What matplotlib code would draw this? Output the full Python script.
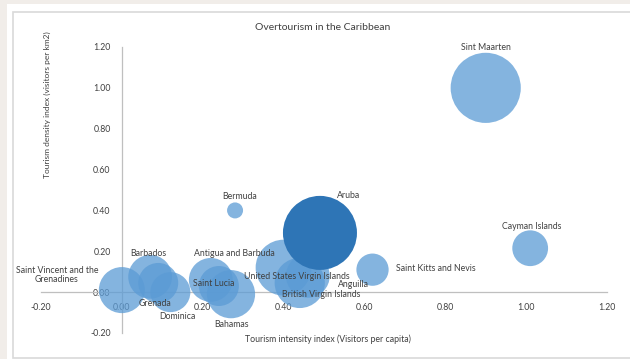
import matplotlib
matplotlib.use("Agg")
import matplotlib.pyplot as plt
import numpy as np
from matplotlib.patches import Rectangle

# Data
countries = [
    "Saint Vincent and the\nGrenadines", "Barbados", "Grenada", "Dominica",
    "Antigua and Barbuda", "Saint Lucia", "Bahamas", "Bermuda",
    "United States Virgin Islands", "British Virgin Islands", "Anguilla",
    "Aruba", "Saint Kitts and Nevis", "Sint Maarten", "Cayman Islands",
]
intensity = [0.00, 0.07, 0.09, 0.12, 0.22, 0.24, 0.27, 0.28,
             0.40, 0.44, 0.46, 0.49, 0.62, 0.90, 1.01]
density = [0.01, 0.075, 0.045, 0.00, 0.06, 0.03, -0.01, 0.40,
           0.12, 0.045, 0.08, 0.29, 0.11, 1.00, 0.215]
# bubble size (relative area)
bubble = [5.3, 4.8, 4.0, 4.0, 4.8, 4.0, 5.8, 0.64,
          7.8, 6.3, 4.8, 13.7, 2.6, 12.3, 3.2]

# label offsets from bubble centre, in pixels (x right, y up)
label_offsets = [(-65, 15), (-2, 23), (-3, -21), (7, -24),
                 (24, 26), (-5, 3), (0, -30), (5, 14),
                 (13, -9), (21, -12), (46, -9),
                 (29, 37), (63, 1), (0, 40), (2, 22)]

light = "#5B9BD5"
dark = "#2E75B6"
text_col = "#404040"

fig = plt.figure(figsize=(6.3, 3.59), dpi=100)

# page background and chart panel
fig.patches.append(Rectangle((0, 0), 1, 1, transform=fig.transFigure,
                             facecolor="#F1EDE9", edgecolor="none", zorder=-3))
fig.patches.append(Rectangle((7 / 630, 0), 1, 1 - 4 / 359, transform=fig.transFigure,
                             facecolor="white", edgecolor="none", zorder=-2))
fig.patches.append(Rectangle((12.5 / 630, 1 / 359), 1, 1 - 12.5 / 359, transform=fig.transFigure,
                             facecolor="white", edgecolor="#D9D9D9", linewidth=1.2, zorder=-1))

ax = fig.add_axes([41 / 630, 26 / 359, 566 / 630, 286 / 359])
ax.set_facecolor("none")

# bubble area scale: 1 unit -> 10 px radius
sizes = [(2 * 10 * np.sqrt(b) * 0.72) ** 2 for b in bubble]
colors = [dark if c == "Aruba" else light for c in countries]
alphas = [1.0 if c == "Aruba" else 0.75 for c in countries]
for x, y, s, c, a in zip(intensity, density, sizes, colors, alphas):
    ax.scatter(x, y, s=s, color=c, alpha=a, edgecolors="none", zorder=3)

for name, x, y, off in zip(countries, intensity, density, label_offsets):
    ax.annotate(name, (x, y), xytext=off, textcoords="offset pixels",
                ha="center", va="center", fontsize=6.3, color=text_col,
                family="Lato", zorder=5, linespacing=1.1)

ax.set_xlim(-0.2, 1.2)
ax.set_ylim(-0.2, 1.2)
ticks = np.arange(-0.2, 1.21, 0.2)
ax.set_xticks(ticks)
ax.set_yticks(ticks)
ax.set_xticklabels([f"{t:.2f}" for t in ticks])
ax.set_yticklabels([f"{t:.2f}" for t in ticks])

# axes cross at zero like the Excel original
for side in ("top", "right"):
    ax.spines[side].set_visible(False)
ax.spines["left"].set_position(("data", 0))
ax.spines["bottom"].set_position(("data", 0))
for side in ("left", "bottom"):
    ax.spines[side].set_color("#BFBFBF")
    ax.spines[side].set_linewidth(0.9)
    ax.spines[side].set_zorder(2)
ax.tick_params(length=0, labelsize=6.3, colors=text_col, pad=8)
for lab in ax.get_xticklabels() + ax.get_yticklabels():
    lab.set_family("Lato")
    lab.set_zorder(6)

fig.text(323 / 630, 1 - 27 / 359, "Overtourism in the Caribbean",
         ha="center", va="center", fontsize=7.5, color=text_col, family="Lato")
fig.text(328 / 630, 1 - 339 / 359, "Tourism intensity index (Visitors per capita)",
         ha="center", va="center", fontsize=6.3, color=text_col, family="Lato")
fig.text(47 / 630, 1 - 105 / 359, "Tourism density index (visitors per km2)",
         ha="center", va="center", rotation=90, fontsize=6.0, color=text_col, family="Lato")

fig.savefig("out.png", dpi=100)
